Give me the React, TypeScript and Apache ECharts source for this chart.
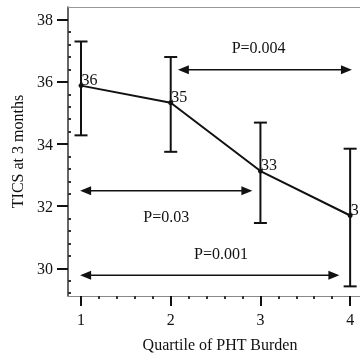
import React, { useEffect, useRef } from 'react';
import * as echarts from 'echarts';

const quartiles = [1, 2, 3, 4];
const means = [35.88, 35.33, 33.13, 31.7];
const upper = [37.3, 36.8, 34.69, 33.85];
const lower = [34.28, 33.75, 31.46, 29.42];
const pointLabels = ['36', '35', '33', '31'];

const xTicks = [1, 2, 3, 4];
const yTicks = [30, 32, 34, 36, 38];

const pLabels = ['P=0.004', 'P=0.03', 'P=0.001'];
const pFrom = [2.08, 0.99, 0.99];
const pTo = [4.02, 2.91, 3.88];
const pY = [36.39, 32.5, 29.78];
const pTextX = [2.98, 1.95, 2.56];
const pTextY = [37.1, 31.66, 30.48];

const X_MIN = 0.855;
const X_MAX = 4.11;
const Y_MIN = 29.11;
const Y_MAX = 38.41;

const FONT = "'Liberation Serif', 'Times New Roman', serif";
const INK = '#111';

function minorValues(min: number, max: number, step: number, majors: number[]) {
  const out: number[] = [];
  const start = Math.ceil(min / step - 1e-9);
  const end = Math.floor(max / step + 1e-9);
  for (let i = start; i <= end; i++) {
    const v = Math.round(i * step * 1000) / 1000;
    if (!majors.some((m) => Math.abs(m - v) < 1e-6)) out.push(v);
  }
  return out;
}

export default function App() {
  const ref = useRef<HTMLDivElement>(null);

  useEffect(() => {
    const chart = echarts.init(ref.current!, null, { renderer: 'svg' });

    const xMinor = minorValues(X_MIN, X_MAX, 0.2, xTicks);
    const yMinor = minorValues(Y_MIN, 38.2, 0.4, yTicks);

    const errData = quartiles.map((q, i) => [q, lower[i], upper[i]]);
    const arrowData = pLabels.map((_, i) => [pFrom[i], pTo[i], pY[i], pTextX[i], pTextY[i], i]);

    const option: any = {
      animation: false,
      grid: { left: 68, top: 7, right: 0, bottom: 59, containLabel: false },
      xAxis: [
        {
          type: 'value',
          min: X_MIN,
          max: X_MAX,
          position: 'bottom',
          name: 'Quartile of PHT Burden',
          nameLocation: 'middle',
          nameGap: 40,
          nameTextStyle: { fontFamily: FONT, fontSize: 16, color: INK, padding: [0, 0, 0, 12] },
          splitLine: { show: false },
          axisLine: { show: true, lineStyle: { color: '#888', width: 1 } },
          axisTick: { show: true, customValues: xTicks, length: 10, lineStyle: { color: INK, width: 2 } },
          axisLabel: { show: true, customValues: xTicks, margin: 15, fontFamily: FONT, fontSize: 16, color: INK },
        },
        {
          type: 'value',
          min: X_MIN,
          max: X_MAX,
          position: 'bottom',
          splitLine: { show: false },
          axisLine: { show: false },
          axisTick: { show: true, customValues: xMinor, length: 3, lineStyle: { color: '#333', width: 2 } },
          axisLabel: { show: false },
        },
        {
          type: 'value',
          min: X_MIN,
          max: X_MAX,
          position: 'top',
          splitLine: { show: false },
          axisLine: { show: true, lineStyle: { color: '#999', width: 1 } },
          axisTick: { show: false },
          axisLabel: { show: false },
        },
      ],
      yAxis: [
        {
          type: 'value',
          min: Y_MIN,
          max: Y_MAX,
          position: 'left',
          name: 'TICS at 3 months',
          nameLocation: 'middle',
          nameGap: 43,
          nameTextStyle: { fontFamily: FONT, fontSize: 16, color: INK },
          splitLine: { show: false },
          axisLine: { show: true, lineStyle: { color: '#333', width: 1.5 } },
          axisTick: { show: true, customValues: yTicks, length: 11, lineStyle: { color: INK, width: 2 } },
          axisLabel: { show: true, customValues: yTicks, margin: 15, fontFamily: FONT, fontSize: 16, color: INK },
        },
        {
          type: 'value',
          min: Y_MIN,
          max: Y_MAX,
          position: 'left',
          splitLine: { show: false },
          axisLine: { show: false },
          axisTick: { show: true, inside: true, customValues: yMinor, length: 3, lineStyle: { color: '#333', width: 2 } },
          axisLabel: { show: false },
        },
      ],
      series: [
        {
          type: 'custom',
          name: 'errorbars',
          xAxisIndex: 0,
          yAxisIndex: 0,
          data: errData,
          encode: { x: 0, y: [1, 2] },
          z: 3,
          renderItem: (params: any, api: any) => {
            const x = api.value(0);
            const lo = api.coord([x, api.value(1)]);
            const hi = api.coord([x, api.value(2)]);
            const hw = 6.5;
            const st = { stroke: INK, lineWidth: 2 };
            return {
              type: 'group',
              children: [
                { type: 'line', shape: { x1: lo[0], y1: lo[1], x2: hi[0], y2: hi[1] }, style: st },
                { type: 'line', shape: { x1: hi[0] - hw, y1: hi[1], x2: hi[0] + hw, y2: hi[1] }, style: st },
                { type: 'line', shape: { x1: lo[0] - hw, y1: lo[1], x2: lo[0] + hw, y2: lo[1] }, style: st },
              ],
            };
          },
        },
        {
          type: 'line',
          name: 'mean',
          xAxisIndex: 0,
          yAxisIndex: 0,
          data: quartiles.map((q, i) => [q, means[i]]),
          symbol: 'circle',
          symbolSize: 5,
          z: 4,
          lineStyle: { color: INK, width: 2 },
          itemStyle: { color: INK },
          label: {
            show: true,
            position: [3, -12],
            formatter: (p: any) => pointLabels[p.dataIndex],
            fontFamily: FONT,
            fontSize: 16,
            color: INK,
          },
        },
        {
          type: 'custom',
          name: 'arrows',
          xAxisIndex: 0,
          yAxisIndex: 0,
          data: arrowData,
          encode: { x: [0, 1, 3], y: [2, 4] },
          z: 5,
          renderItem: (params: any, api: any) => {
            const a = api.coord([api.value(0), api.value(2)]);
            const b = api.coord([api.value(1), api.value(2)]);
            const t = api.coord([api.value(3), api.value(4)]);
            const idx = api.value(5);
            const L = 11;
            const H = 4.5;
            const y = a[1];
            return {
              type: 'group',
              children: [
                { type: 'line', shape: { x1: a[0] + 4, y1: y, x2: b[0] - 4, y2: y }, style: { stroke: INK, lineWidth: 1.5 } },
                { type: 'polygon', shape: { points: [[a[0], y], [a[0] + L, y - H], [a[0] + L, y + H]] }, style: { fill: INK } },
                { type: 'polygon', shape: { points: [[b[0], y], [b[0] - L, y - H], [b[0] - L, y + H]] }, style: { fill: INK } },
                {
                  type: 'text',
                  style: {
                    text: pLabels[idx],
                    x: t[0],
                    y: t[1],
                    align: 'center',
                    verticalAlign: 'middle',
                    fontFamily: FONT,
                    fontSize: 16,
                    fill: INK,
                  },
                },
              ],
            };
          },
        },
      ],
    };

    chart.setOption(option);
    return () => chart.dispose();
  }, []);

  return <div ref={ref} style={{ position: 'fixed', left: 0, top: 0, width: 360, height: 357 }} />;
}
